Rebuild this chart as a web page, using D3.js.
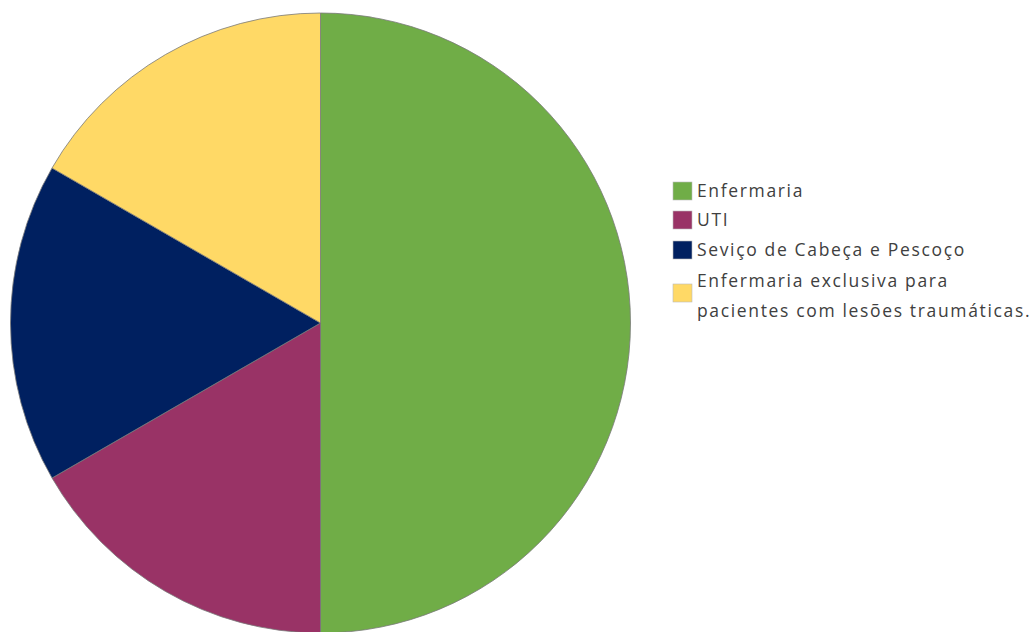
<!DOCTYPE html>
<html>
<head>
<meta charset="utf-8">
<script src="https://d3js.org/d3.v7.min.js"></script>
<style>
  body { margin: 0; background: #fff; }
  text { font-family: "Open Sans", sans-serif; }
</style>
</head>
<body>
<div id="chart"></div>
<script>
// data
var categories = ["Enfermaria", "UTI", "Seviço de Cabeça e Pescoço", "Enfermaria exclusiva para|pacientes com lesões traumáticas."];
var values = [3, 1, 1, 1];
var colors = ["#70AD47", "#993366", "#002060", "#FFD966"];

var width = 1033, height = 632;
var cx = 320.5, cy = 323, r = 310;

var svg = d3.select("#chart").append("svg")
  .attr("width", width)
  .attr("height", height);

var pie = d3.pie().sort(null).value(function(d) { return d; });
var arc = d3.arc().innerRadius(0).outerRadius(r);

var g = svg.append("g").attr("transform", "translate(" + cx + "," + cy + ")");
g.selectAll("path")
  .data(pie(values))
  .enter().append("path")
  .attr("d", arc)
  .attr("fill", function(d, i) { return colors[i]; })
  .attr("stroke", "#7a7a7a")
  .attr("stroke-width", 0.8);

// legend
var rowY = [191, 220, 250, 296];
var leg = svg.append("g");
categories.forEach(function(c, i) {
  var row = leg.append("g").attr("transform", "translate(673," + rowY[i] + ")");
  var lines = c.split("|");
  row.append("rect")
    .attr("x", 0).attr("y", lines.length > 1 ? -12 : -9)
    .attr("width", 19).attr("height", 18)
    .attr("fill", colors[i])
    .attr("stroke", "#bbb").attr("stroke-width", 0.6);
  lines.forEach(function(l, j) {
    row.append("text")
      .attr("x", 24)
      .attr("y", (j - (lines.length - 1) / 2) * 30)
      .attr("dy", "0.35em")
      .attr("font-size", 17.5)
      .attr("letter-spacing", 1.65)
      .attr("fill", "#404040")
      .text(l);
  });
});
</script>
</body>
</html>
